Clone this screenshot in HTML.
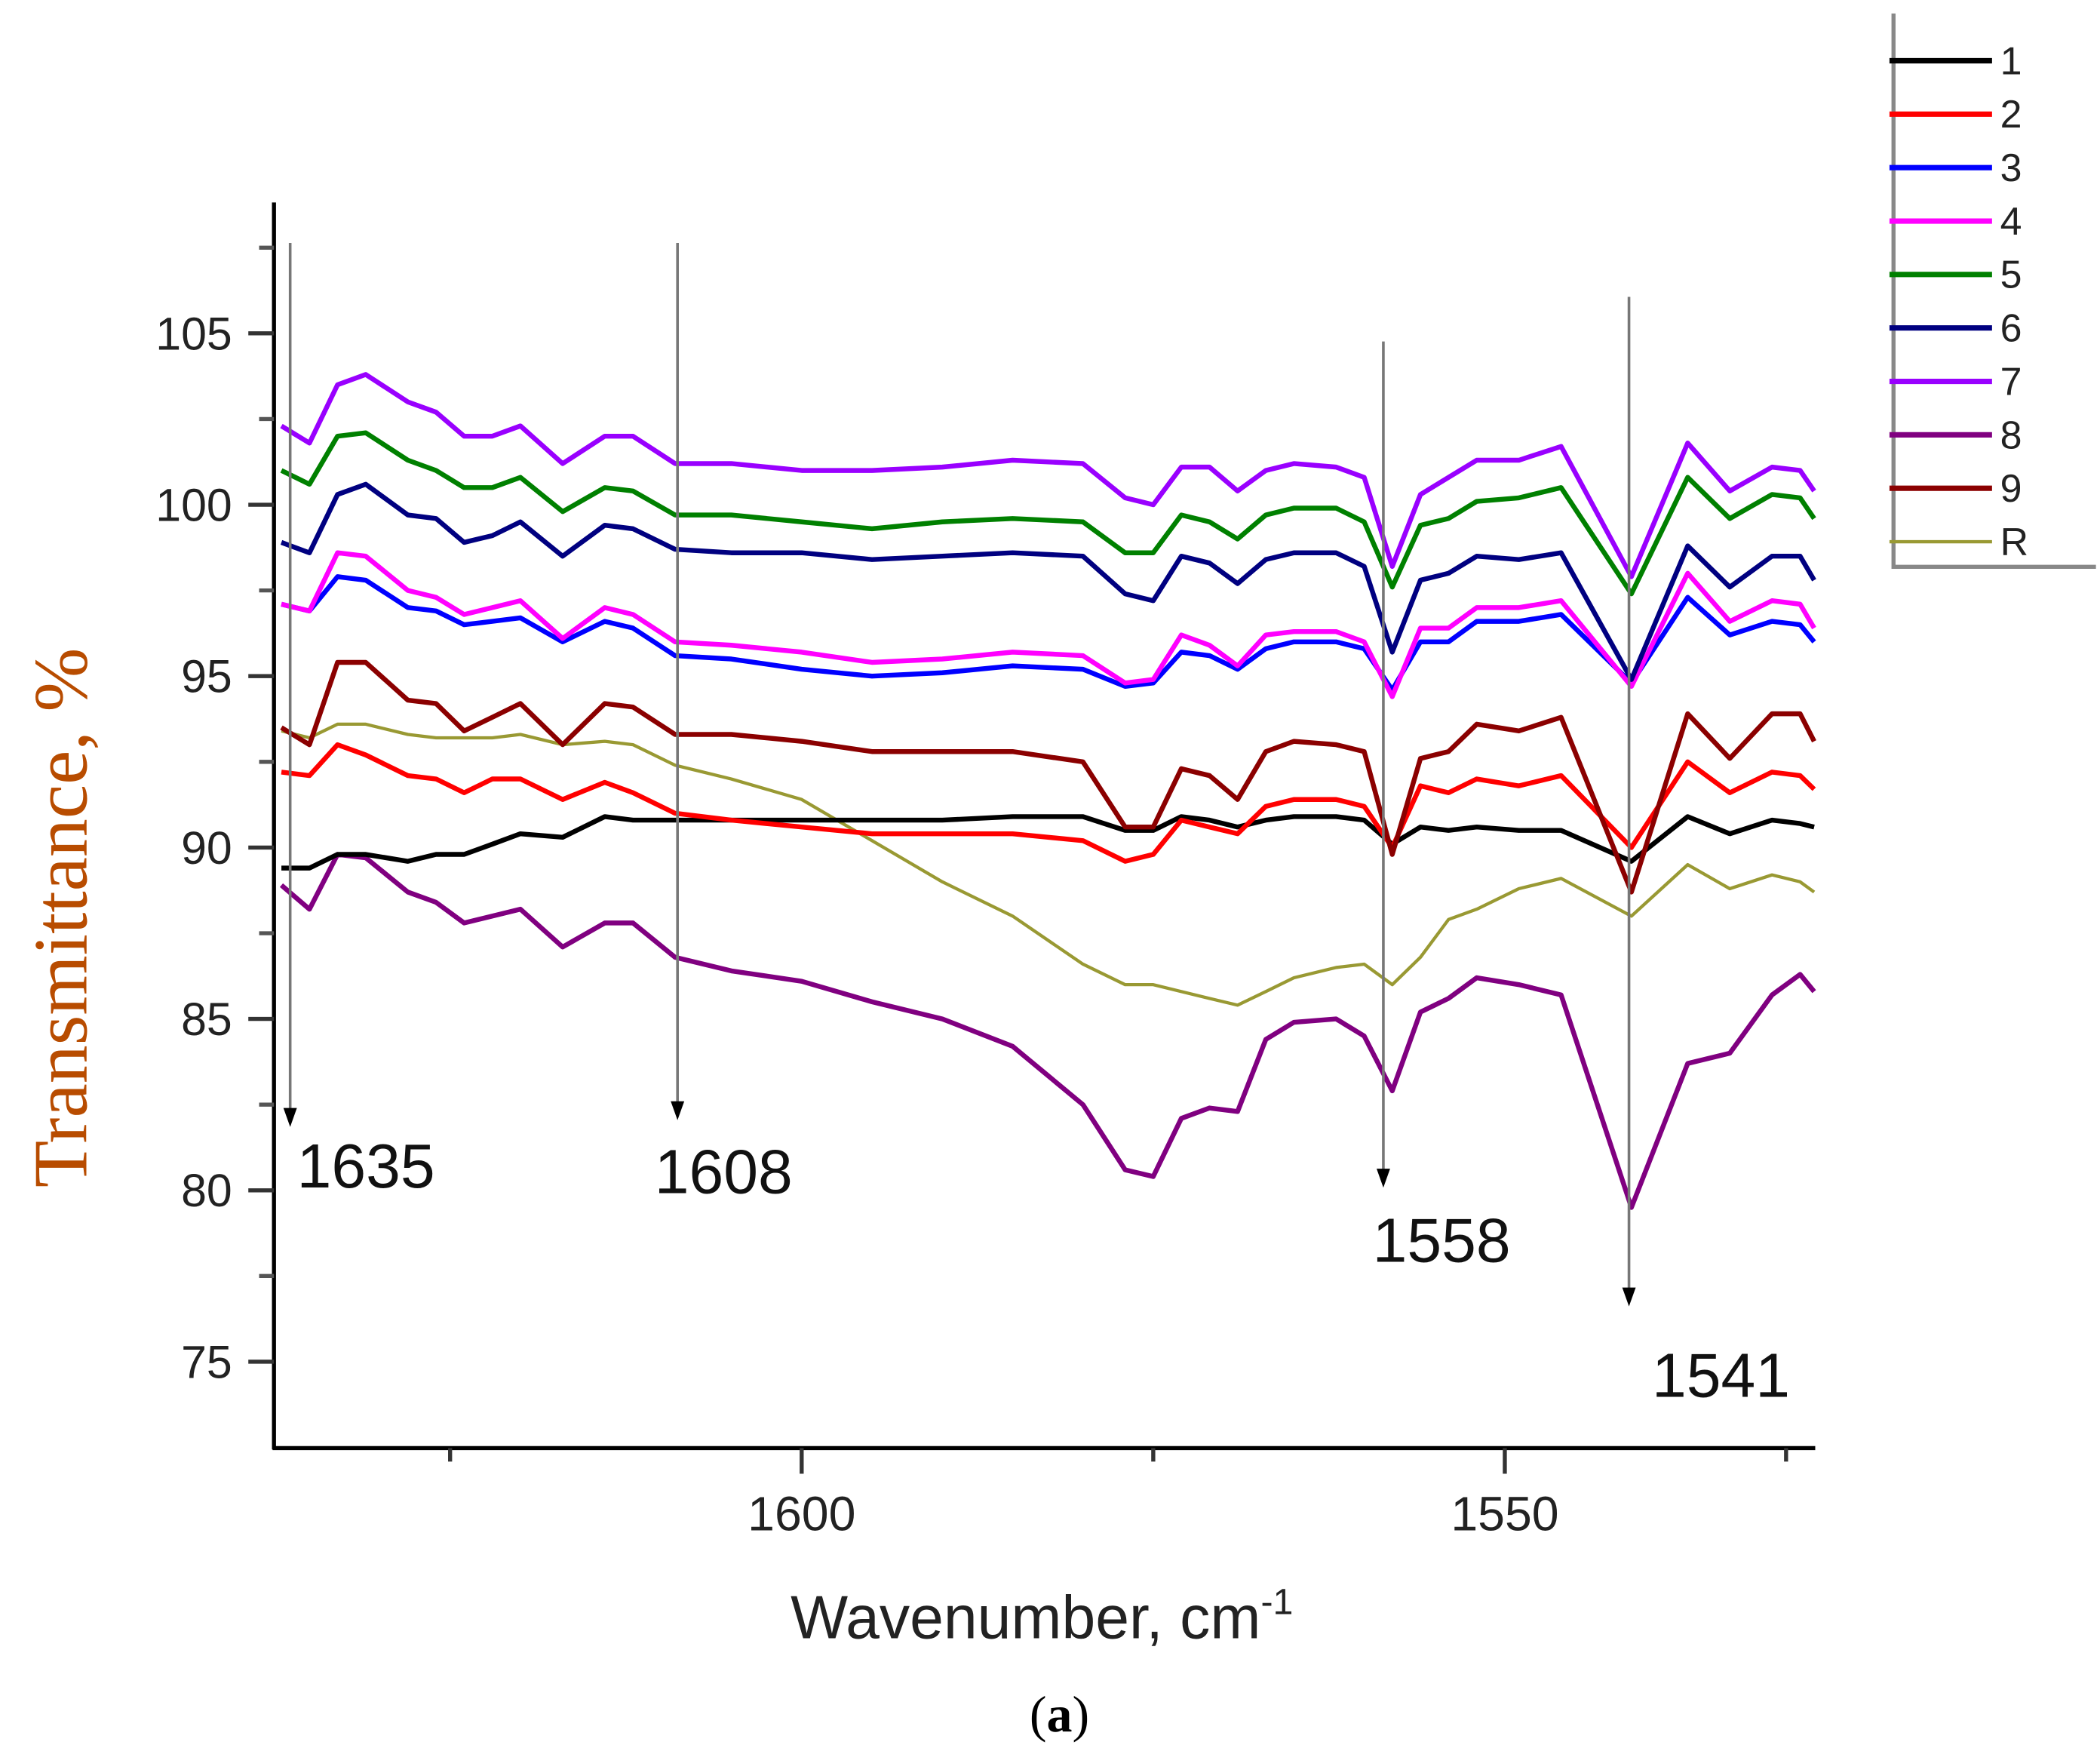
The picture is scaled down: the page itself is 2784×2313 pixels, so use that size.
<!DOCTYPE html>
<html><head><meta charset="utf-8"><style>
html,body{margin:0;padding:0;background:#fff;}
svg{display:block;}
text{font-family:"Liberation Sans",sans-serif;}
</style></head><body>
<svg id="chart" width="2784" height="2313" viewBox="0 0 1556 1293" preserveAspectRatio="none" xmlns="http://www.w3.org/2000/svg">
<g id="axes"></g>
<g id="series"></g>
<g id="annot"></g>
<g id="legend"></g>
<text x="772" y="1214" text-anchor="middle" font-size="45" fill="#222">Wavenumber, cm<tspan dy="-18" font-size="27">-1</tspan></text>
<text transform="translate(64,680) rotate(-90)" text-anchor="middle" font-size="57" fill="#b84c00" style="font-family:'Liberation Serif',serif">Transmittance, %</text>
<text x="785" y="1283" text-anchor="middle" font-size="38" fill="#000" style="font-family:'Liberation Serif',serif">(<tspan font-weight="bold">a</tspan>)</text>
</svg>
<script>
const wavenumbers=[1637,1635,1633,1631,1628,1626,1624,1622,1620,1617,1614,1612,1609,1605,1600,1595,1590,1585,1580,1577,1575,1573,1571,1569,1567,1565,1562,1560,1558,1556,1554,1552,1549,1546,1541,1537,1534,1531,1529,1528];
const s1=[89.4,89.4,89.8,89.8,89.6,89.8,89.8,90.1,90.4,90.3,90.9,90.8,90.8,90.8,90.8,90.8,90.8,90.9,90.9,90.5,90.5,90.9,90.8,90.6,90.8,90.9,90.9,90.8,90.1,90.6,90.5,90.6,90.5,90.5,89.6,90.9,90.4,90.8,90.7,90.6];
const s2=[92.2,92.1,93.0,92.7,92.1,92.0,91.6,92.0,92.0,91.4,91.9,91.6,91.0,90.8,90.6,90.4,90.4,90.4,90.2,89.6,89.8,90.8,90.6,90.4,91.2,91.4,91.4,91.2,90.0,91.8,91.6,92.0,91.8,92.1,90.0,92.5,91.6,92.2,92.1,91.7];
const s3=[97.1,96.9,97.9,97.8,97.0,96.9,96.5,96.6,96.7,96.0,96.6,96.4,95.6,95.5,95.2,95.0,95.1,95.3,95.2,94.7,94.8,95.7,95.6,95.2,95.8,96.0,96.0,95.8,94.6,96.0,96.0,96.6,96.6,96.8,94.8,97.3,96.2,96.6,96.5,96.0];
const s4=[97.1,96.9,98.6,98.5,97.5,97.3,96.8,97.0,97.2,96.1,97.0,96.8,96.0,95.9,95.7,95.4,95.5,95.7,95.6,94.8,94.9,96.2,95.9,95.3,96.2,96.3,96.3,96.0,94.4,96.4,96.4,97.0,97.0,97.2,94.7,98.0,96.6,97.2,97.1,96.4];
const s5=[101.0,100.6,102.0,102.1,101.3,101.0,100.5,100.5,100.8,99.8,100.5,100.4,99.7,99.7,99.5,99.3,99.5,99.6,99.5,98.6,98.6,99.7,99.5,99.0,99.7,99.9,99.9,99.5,97.6,99.4,99.6,100.1,100.2,100.5,97.4,100.8,99.6,100.3,100.2,99.6];
const s6=[98.9,98.6,100.3,100.6,99.7,99.6,98.9,99.1,99.5,98.5,99.4,99.3,98.7,98.6,98.6,98.4,98.5,98.6,98.5,97.4,97.2,98.5,98.3,97.7,98.4,98.6,98.6,98.2,95.7,97.8,98.0,98.5,98.4,98.6,94.9,98.8,97.6,98.5,98.5,97.8];
const s7=[102.3,101.8,103.5,103.8,103.0,102.7,102.0,102.0,102.3,101.2,102.0,102.0,101.2,101.2,101.0,101.0,101.1,101.3,101.2,100.2,100.0,101.1,101.1,100.4,101.0,101.2,101.1,100.8,98.2,100.3,100.8,101.3,101.3,101.7,97.9,101.8,100.4,101.1,101.0,100.4];
const s8=[88.9,88.2,89.8,89.7,88.7,88.4,87.8,88.0,88.2,87.1,87.8,87.8,86.8,86.4,86.1,85.5,85.0,84.2,82.5,80.6,80.4,82.1,82.4,82.3,84.4,84.9,85.0,84.5,82.9,85.2,85.6,86.2,86.0,85.7,79.5,83.7,84.0,85.7,86.3,85.8];
const s9=[93.5,93.0,95.4,95.4,94.3,94.2,93.4,93.8,94.2,93.0,94.2,94.1,93.3,93.3,93.1,92.8,92.8,92.8,92.5,90.6,90.6,92.3,92.1,91.4,92.8,93.1,93.0,92.8,89.8,92.6,92.8,93.6,93.4,93.8,88.7,93.9,92.6,93.9,93.9,93.1];
const sR=[93.4,93.2,93.6,93.6,93.3,93.2,93.2,93.2,93.3,93.0,93.1,93.0,92.4,92.0,91.4,90.2,89.0,88.0,86.6,86.0,86.0,85.8,85.6,85.4,85.8,86.2,86.5,86.6,86.0,86.8,87.9,88.2,88.8,89.1,88.0,89.5,88.8,89.2,89.0,88.7];
const seriesNames=["1","2","3","4","5","6","7","8","9","R"];
const seriesColors=["#000000","#ff0000","#0000ff","#ff00ff","#008000","#000080","#9900ff","#800080","#8b0000","#999933"];
const seriesData=[s1,s2,s3,s4,s5,s6,s7,s8,s9,sR];
const yTicks=[75,80,85,90,95,100,105];
const xTicks=[1600,1550];
const peaks=[1635,1608,1558,1541];

const NS="http://www.w3.org/2000/svg";
function X(w){return 594+(1600-w)*10.42;}
function Y(v){return 374+(100-v)*25.4;}
function mk(tag,attrs,parent){const e=document.createElementNS(NS,tag);for(const k in attrs)e.setAttribute(k,attrs[k]);parent.appendChild(e);return e;}
const axes=document.getElementById('axes');
let e;
e=mk('line',{x1:203,y1:150,x2:203,y2:1074,stroke:'#000','stroke-width':3},axes);


e=mk('line',{x1:202,y1:1073,x2:1345,y2:1073,stroke:'#000','stroke-width':3},axes);


yTicks.forEach(v=>{
  e=mk('line',{x1:184,y1:Y(v),x2:203,y2:Y(v),stroke:'#333','stroke-width':3},axes);
  
  
  e=mk('line',{x1:192,y1:Y(v+2.5),x2:203,y2:Y(v+2.5),stroke:'#555','stroke-width':3},axes);
  
  
  const t=mk('text',{x:172,y:Y(v)+12,'text-anchor':'end','font-size':34,fill:'#222'},axes);
  t.textContent=v;
  
  
});
[1625,1600,1575,1550,1530].forEach(w=>{
  const major=xTicks.includes(w);
  e=mk('line',{x1:X(w),y1:1073,x2:X(w),y2:major?1092:1083,stroke:'#333','stroke-width':3},axes);
  
  
});
xTicks.forEach(w=>{
  const t=mk('text',{x:X(w),y:1134,'text-anchor':'middle','font-size':36,fill:'#222'},axes);
  t.textContent=w;
  
  
});
const sg=document.getElementById('series');
const order=[9,7,0,1,8,2,3,5,4,6];
order.forEach(i=>{
  const pts=wavenumbers.map((w,j)=>X(w).toFixed(1)+','+Y(seriesData[i][j]).toFixed(1)).join(' ');
  const p=mk('polyline',{points:pts,fill:'none',stroke:seriesColors[i],'stroke-width':i==9?2.4:3.6,'stroke-linejoin':'round'},sg);
  
  
});
const an=document.getElementById('annot');
const ann=[[215,180,835,220,880],[502,180,830,485,884],[1025,253,880,1017,935],[1207,220,968,1224,1035]];
ann.forEach((a,i)=>{
  e=mk('line',{x1:a[0],y1:a[1],x2:a[0],y2:a[2]-12,stroke:'#777','stroke-width':2},an);
  
  
  e=mk('polygon',{points:`${a[0]-5},${a[2]-14} ${a[0]+5},${a[2]-14} ${a[0]},${a[2]}`,fill:'#000'},an);
  
  
  const t=mk('text',{x:a[3],y:a[4],'font-size':46,fill:'#111'},an);
  t.textContent=peaks[i];
  
  
});
const lg=document.getElementById('legend');
e=mk('polyline',{points:'1403,10 1403,420 1553,420',fill:'none',stroke:'#888','stroke-width':3},lg);


seriesNames.forEach((n,i)=>{
  const y=45+i*39.6;
  e=mk('line',{x1:1400,y1:y,x2:1476,y2:y,stroke:seriesColors[i],'stroke-width':i==9?2.5:4},lg);
  
  
  const t=mk('text',{x:1482,y:y+10,'font-size':29,fill:'#222'},lg);
  t.textContent=n;
  
  
});
</script>
</body></html>
